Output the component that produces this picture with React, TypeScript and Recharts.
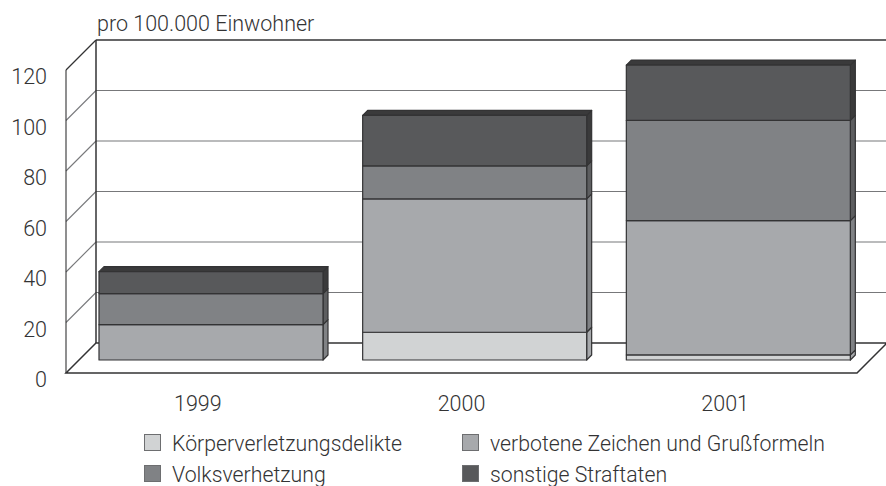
import { BarChart, Bar, XAxis, YAxis, Legend, usePlotArea } from 'recharts';

const years = ['1999', '2000', '2001'];
const koerper = [0, 11, 2];
const zeichen = [14, 52.8, 53.2];
const volks = [12.3, 13.1, 39.7];
const sonstige = [8.7, 20, 21.9];
const yTicks = [0, 20, 40, 60, 80, 100, 120];

const data = years.map((year, i) => ({
  year,
  koerper: koerper[i],
  zeichen: zeichen[i],
  volks: volks[i],
  sonstige: sonstige[i],
}));

const FONT = 'Roboto, sans-serif';
const INK = '#333334';
const FONT_SIZE = 21.5;
const WALL = 30;
const BAR_SHIFT = 13;
const BAR_DEPTH = 5;

// back wall, floor and left wall of the fake 3d box
function Box() {
  const plot = usePlotArea();
  if (!plot) return null;
  const left = plot.x;
  const right = plot.x + plot.width;
  const bottom = plot.y + plot.height;
  const yOf = (v: number) => bottom - (v / 120) * plot.height;
  return (
    <g fill="none">
      {yTicks.slice(1, -1).map((v) => (
        <g key={v} stroke="#77787a" strokeWidth={1.1}>
          <line x1={left + WALL} x2={right + WALL} y1={yOf(v) - WALL} y2={yOf(v) - WALL} />
          <line x1={left} x2={left + WALL} y1={yOf(v)} y2={yOf(v) - WALL} />
        </g>
      ))}
      <line x1={left + WALL} x2={right + WALL} y1={plot.y - WALL} y2={plot.y - WALL} stroke={INK} strokeWidth={1.3} />
      <line x1={left} x2={left + WALL} y1={plot.y} y2={plot.y - WALL} stroke={INK} strokeWidth={1.3} />
      <line x1={left} x2={left} y1={plot.y} y2={bottom} stroke={INK} strokeWidth={1.1} />
      <line x1={left + WALL} x2={left + WALL} y1={plot.y - WALL} y2={bottom - WALL} stroke={INK} strokeWidth={1.5} />
      <path
        d={`M${left} ${bottom}L${right} ${bottom}L${right + WALL} ${bottom - WALL}L${left + WALL} ${bottom - WALL}Z`}
        stroke={INK}
        strokeWidth={1.5}
      />
      <text x={97} y={31} fill={INK} stroke="none" fontSize={FONT_SIZE} fontWeight={300} fontFamily={FONT}>
        pro 100.000 Einwohner
      </text>
    </g>
  );
}

function Block(props: any) {
  const { x, y, width, height, fill, sideFill, isTop } = props;
  if (!height || height <= 0) return null;
  const fx = x + BAR_SHIFT;
  const fy = y - BAR_SHIFT;
  const r = fx + width;
  const d = BAR_DEPTH;
  return (
    <g stroke={INK} strokeWidth={1.2} strokeLinejoin="round">
      <polygon
        points={`${r},${fy} ${r + d},${fy - d} ${r + d},${fy + height - d} ${r},${fy + height}`}
        fill={sideFill}
      />
      {isTop && (
        <polygon points={`${fx},${fy} ${fx + d},${fy - d} ${r + d},${fy - d} ${r},${fy}`} fill="#3a3a3b" />
      )}
      <rect x={fx} y={fy} width={width} height={height} fill={fill} />
    </g>
  );
}

function LegendGrid({ payload }: any) {
  return (
    <div
      style={{
        display: 'grid',
        gridTemplateColumns: '318px auto',
        rowGap: 11,
        fontFamily: FONT,
        fontWeight: 300,
        fontSize: 21.25,
        lineHeight: '20px',
        color: INK,
      }}
    >
      {(payload || []).map((item: any) => (
        <div key={item.value} style={{ display: 'flex', alignItems: 'center' }}>
          <span
            style={{
              width: 15,
              height: 15,
              marginRight: 11,
              background: item.color,
              border: '1.5px solid #6d6e70',
            }}
          />
          <span style={{ position: 'relative', top: 2, whiteSpace: 'nowrap' }}>{item.value}</span>
        </div>
      ))}
    </div>
  );
}

export default function App() {
  return (
    <div style={{ position: 'absolute', left: 0, top: 0, width: 886, height: 486, background: '#fff' }}>
      <BarChart
        width={886}
        height={486}
        data={data}
        barSize={224}
        margin={{ top: 70, right: 29, bottom: 32, left: 0 }}
      >
        <Box />
        <XAxis
          dataKey="year"
          height={30}
          axisLine={false}
          tickLine={false}
          tickMargin={17}
          tick={{ fill: INK, fontSize: FONT_SIZE, fontWeight: 300, fontFamily: FONT }}
        />
        <YAxis
          type="number"
          domain={[0, 120]}
          ticks={yTicks}
          width={66}
          axisLine={false}
          tickLine={false}
          tick={(p: any) => (
            <text x={47} y={p.y + 14} textAnchor="end" fill={INK} fontSize={FONT_SIZE} fontWeight={300} fontFamily={FONT}>
              {p.payload.value}
            </text>
          )}
        />
        <Legend
          verticalAlign="bottom"
          align="left"
          itemSorter={null}
          wrapperStyle={{ left: 144, top: 432, bottom: 'auto', width: 720 }}
          content={<LegendGrid />}
        />
        <Bar
          dataKey="koerper"
          name="Körperverletzungsdelikte"
          stackId="a"
          fill="#d1d3d4"
          isAnimationActive={false}
          shape={(p: any) => <Block {...p} sideFill="#a6a8ab" />}
        />
        <Bar
          dataKey="zeichen"
          name="verbotene Zeichen und Grußformeln"
          stackId="a"
          fill="#a7a9ac"
          isAnimationActive={false}
          shape={(p: any) => <Block {...p} sideFill="#808285" />}
        />
        <Bar
          dataKey="volks"
          name="Volksverhetzung"
          stackId="a"
          fill="#808285"
          isAnimationActive={false}
          shape={(p: any) => <Block {...p} sideFill="#5d5e60" />}
        />
        <Bar
          dataKey="sonstige"
          name="sonstige Straftaten"
          stackId="a"
          fill="#58595b"
          isAnimationActive={false}
          shape={(p: any) => <Block {...p} sideFill="#3a3a3b" isTop />}
        />
      </BarChart>
    </div>
  );
}
